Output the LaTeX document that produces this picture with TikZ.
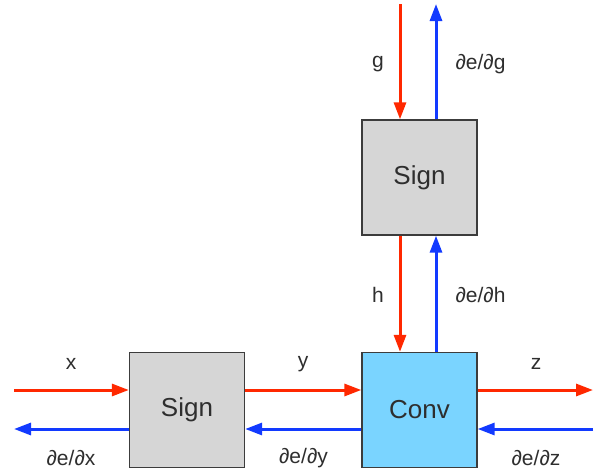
\documentclass[tikz,border=0pt]{standalone}
\usepackage{fontspec}
\setmainfont{Liberation Sans}
\usetikzlibrary{arrows.meta,calc}
\definecolor{fred}{RGB}{255,40,0}
\definecolor{bblue}{RGB}{18,58,255}
\definecolor{boxgray}{RGB}{214,214,214}
\definecolor{convblue}{RGB}{122,212,255}
\definecolor{edge}{RGB}{60,60,60}
\begin{document}
\begin{tikzpicture}[x=1pt,y=-1pt,
  blockbox/.style={draw=edge,line width=1.3pt,minimum width=115pt,minimum height=115pt,inner sep=0pt,font=\fontsize{26}{30}\selectfont,text=black!82},
  signbox/.style={blockbox,fill=boxgray},
  convbox/.style={blockbox,fill=convblue},
  fwd/.style={draw=fred,line width=3pt,-{Triangle[length=17pt,width=12pt]}},
  bwd/.style={draw=bblue,line width=3pt,-{Triangle[length=17pt,width=12pt]}},
  lbl/.style={font=\fontsize{21}{24}\selectfont,text=black!82,inner sep=0pt}]
\useasboundingbox (0,0) rectangle (594,471);
\node[signbox] (top) at (419.5,177.5) {\raisebox{-3pt}{Sign}};
\node[signbox] (left) at (187,410) {\raisebox{-3pt}{Sign}};
\node[convbox] (conv) at (419.5,410) {Conv};
% free ends
\coordinate (gin) at (400,4);
\coordinate (gout) at (436,4);
\coordinate (xin) at (14,390);
\coordinate (xout) at (14,429);
\coordinate (zout) at (593,390);
\coordinate (zin) at (593,429);
% top
\draw[fwd] (gin) -- (gin |- top.north);
\draw[bwd] (gout |- top.north) -- (gout);
% top to conv
\draw[fwd] (gin |- top.south) -- (gin |- conv.north);
\draw[bwd] (gout |- conv.north) -- (gout |- top.south);
% left input
\draw[fwd] (xin) -- (xin -| left.west);
\draw[bwd] (xout -| left.west) -- (xout);
% left to conv
\draw[fwd] (xin -| left.east) -- (xin -| conv.west);
\draw[bwd] (xout -| conv.west) -- (xout -| left.east);
% conv output
\draw[fwd] (zout -| conv.east) -- (zout);
\draw[bwd] (zin) -- (zin -| conv.east);
% labels
\node[lbl] (lg) at (378,64) {g};
\node[lbl] (ldg) at (480.5,64) {∂e/∂g};
\node[lbl] (lh) at (378,295) {h};
\node[lbl] (ldh) at (480.5,295) {∂e/∂h};
\node[lbl] (lx) at (71,364) {x};
\node[lbl] (ldx) at (71,458) {∂e/∂x};
\node[lbl] (ly) at (303,364) {y};
\node[lbl] (ldy) at (303.5,458) {∂e/∂y};
\node[lbl] (lz) at (536,364) {z};
\node[lbl] (ldz) at (536,458) {∂e/∂z};
\end{tikzpicture}
\end{document}
